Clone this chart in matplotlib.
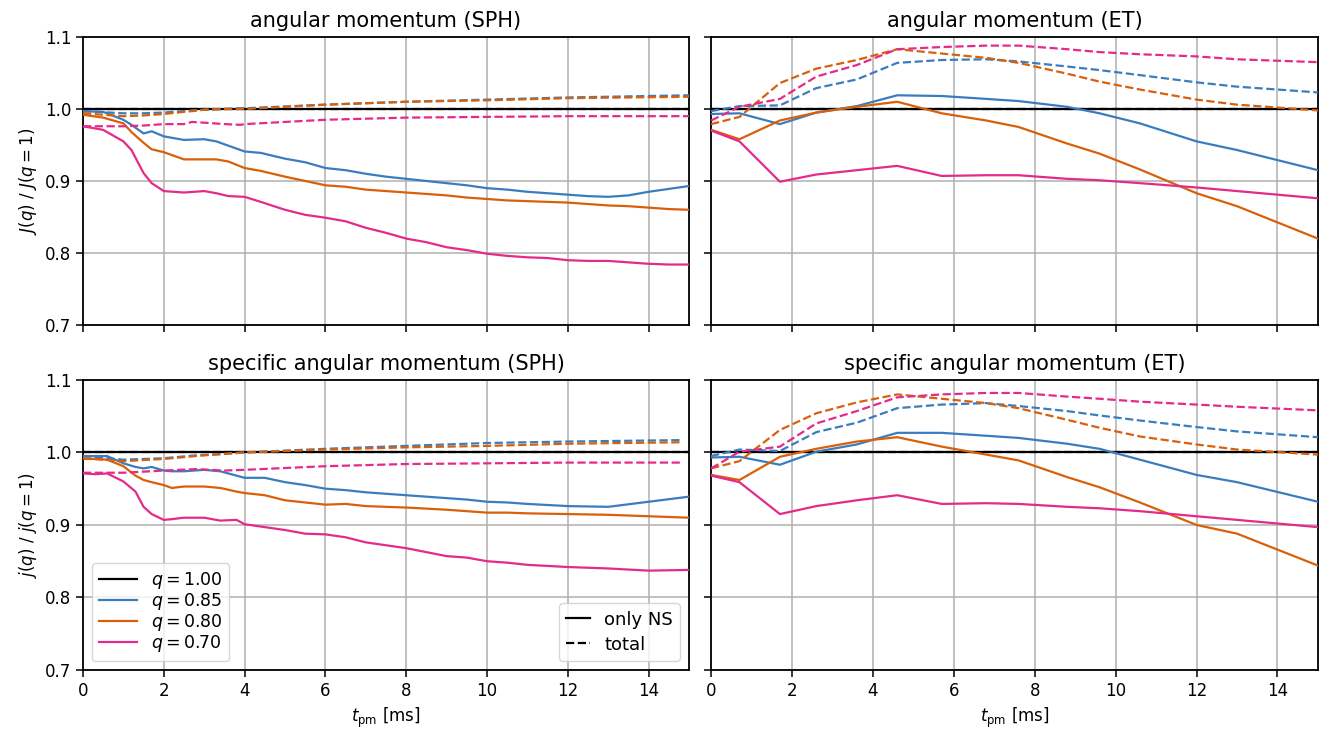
import numpy as np
import matplotlib
matplotlib.use("Agg")
import matplotlib.pyplot as plt
from matplotlib.lines import Line2D

# ---------------- data ----------------
q_labels = ["1.00", "0.85", "0.80", "0.70"]
colors = ["black", "#3a7dbf", "#d9600a", "#e52a8a"]

# SPH, angular momentum (top-left)
sph_J_t = [0, 0.5, 1.0, 1.2, 1.5, 1.7, 2.0, 2.5, 3.0, 3.3, 3.6, 4.0, 4.4, 5.0, 5.5, 6.0, 6.5, 7.0, 7.5,
           8.0, 8.5, 9.0, 9.5, 10.0, 10.5, 11.0, 11.5, 12.0, 12.5, 13.0, 13.5, 14.0, 14.5, 15.0]
sph_J_085 = [0.997, 0.996, 0.985, 0.978, 0.966, 0.969, 0.962, 0.957, 0.958, 0.955, 0.949, 0.941, 0.939, 0.931,
             0.926, 0.918, 0.915, 0.910, 0.906, 0.903, 0.900, 0.897, 0.894, 0.890, 0.888, 0.885, 0.883, 0.881,
             0.879, 0.878, 0.880, 0.885, 0.889, 0.893]
sph_J_080 = [0.992, 0.988, 0.980, 0.968, 0.953, 0.944, 0.940, 0.930, 0.930, 0.930, 0.927, 0.918, 0.914, 0.906,
             0.900, 0.894, 0.892, 0.888, 0.886, 0.884, 0.882, 0.880, 0.877, 0.875, 0.873, 0.872, 0.871, 0.870,
             0.868, 0.866, 0.865, 0.863, 0.861, 0.860]
sph_J_070 = [0.976, 0.971, 0.955, 0.943, 0.911, 0.897, 0.886, 0.884, 0.886, 0.883, 0.879, 0.878, 0.871, 0.860,
             0.853, 0.849, 0.844, 0.835, 0.828, 0.820, 0.815, 0.808, 0.804, 0.799, 0.796, 0.794, 0.793, 0.790,
             0.789, 0.789, 0.787, 0.785, 0.784, 0.784]
sph_Jtot_t = [0, 1, 1.5, 2, 2.5, 2.7, 3, 3.5, 3.9, 4, 6, 8, 10, 12, 15]
sph_Jtot_085 = [0.997, 0.994, 0.994, 0.995, 0.997, 0.998, 0.999, 1.000, 1.001, 1.001, 1.006, 1.010, 1.013, 1.016, 1.019]
sph_Jtot_080 = [0.994, 0.990, 0.991, 0.993, 0.996, 0.997, 0.999, 1.000, 1.000, 1.000, 1.006, 1.010, 1.012, 1.015, 1.017]
sph_Jtot_070 = [0.976, 0.976, 0.977, 0.979, 0.979, 0.982, 0.981, 0.979, 0.978, 0.979, 0.985, 0.988, 0.989, 0.990, 0.990]

# SPH, specific angular momentum (bottom-left)
sph_j_t = [0, 0.3, 0.6, 1.0, 1.3, 1.5, 1.7, 2.0, 2.2, 2.5, 3.0, 3.4, 3.8, 4.0, 4.5, 5.0, 5.5, 6.0, 6.5, 7.0,
           8.0, 9.0, 9.5, 10.0, 10.5, 11.0, 12.0, 13.0, 14.0, 15.0]
sph_j_085 = [0.995, 0.995, 0.995, 0.985, 0.980, 0.978, 0.980, 0.975, 0.974, 0.974, 0.976, 0.974, 0.968, 0.965,
             0.965, 0.959, 0.955, 0.950, 0.948, 0.945, 0.941, 0.937, 0.935, 0.932, 0.931, 0.929, 0.926, 0.925,
             0.932, 0.939]
sph_j_080 = [0.991, 0.991, 0.990, 0.981, 0.968, 0.962, 0.959, 0.955, 0.951, 0.953, 0.953, 0.951, 0.946, 0.944,
             0.941, 0.934, 0.931, 0.928, 0.929, 0.926, 0.924, 0.921, 0.919, 0.917, 0.917, 0.916, 0.915, 0.914,
             0.912, 0.910]
sph_j_070 = [0.971, 0.970, 0.971, 0.960, 0.946, 0.925, 0.915, 0.907, 0.908, 0.910, 0.910, 0.906, 0.907, 0.901,
             0.897, 0.893, 0.888, 0.887, 0.883, 0.876, 0.868, 0.857, 0.855, 0.850, 0.848, 0.845, 0.842, 0.840,
             0.837, 0.838]
sph_jtot_t = [0, 1, 2, 2.8, 3.5, 4, 6, 8, 10, 12, 14.8]
sph_jtot_085 = [0.995, 0.990, 0.992, 0.996, 0.998, 1.000, 1.005, 1.009, 1.013, 1.015, 1.017]
sph_jtot_080 = [0.992, 0.988, 0.991, 0.995, 0.998, 1.000, 1.004, 1.007, 1.009, 1.012, 1.014]
sph_jtot_070 = [0.972, 0.972, 0.975, 0.977, 0.975, 0.976, 0.981, 0.984, 0.985, 0.986, 0.986]

# ET (piecewise data at output times)
et_t = [0, 0.7, 1.7, 2.6, 3.6, 4.6, 5.7, 6.8, 7.6, 8.8, 9.6, 10.6, 12.0, 13.0, 15.0]
et_J_085 = [0.993, 0.994, 0.979, 0.995, 1.004, 1.019, 1.018, 1.014, 1.011, 1.003, 0.994, 0.980, 0.955, 0.943, 0.915]
et_J_080 = [0.971, 0.958, 0.984, 0.995, 1.003, 1.010, 0.994, 0.984, 0.975, 0.952, 0.938, 0.916, 0.883, 0.865, 0.820]
et_J_070 = [0.970, 0.955, 0.899, 0.909, 0.915, 0.921, 0.907, 0.908, 0.908, 0.903, 0.901, 0.897, 0.891, 0.886, 0.876]
et_Jtot_085 = [0.997, 1.004, 1.005, 1.029, 1.041, 1.064, 1.068, 1.069, 1.066, 1.059, 1.054, 1.047, 1.037, 1.031, 1.023]
et_Jtot_080 = [0.979, 0.989, 1.036, 1.056, 1.068, 1.083, 1.077, 1.071, 1.064, 1.049, 1.038, 1.027, 1.013, 1.006, 0.998]
et_Jtot_070 = [0.984, 1.003, 1.014, 1.045, 1.061, 1.083, 1.086, 1.088, 1.088, 1.083, 1.079, 1.076, 1.073, 1.069, 1.065]

et_j_085 = [0.993, 0.994, 0.983, 1.001, 1.011, 1.027, 1.027, 1.023, 1.020, 1.012, 1.005, 0.990, 0.969, 0.959, 0.932]
et_j_080 = [0.969, 0.962, 0.994, 1.005, 1.015, 1.021, 1.008, 0.997, 0.989, 0.966, 0.952, 0.931, 0.900, 0.888, 0.844]
et_j_070 = [0.968, 0.959, 0.915, 0.926, 0.934, 0.941, 0.929, 0.930, 0.929, 0.925, 0.923, 0.919, 0.912, 0.907, 0.897]
et_jtot_085 = [0.995, 1.004, 1.002, 1.028, 1.041, 1.061, 1.066, 1.068, 1.064, 1.057, 1.051, 1.044, 1.035, 1.029, 1.021]
et_jtot_080 = [0.978, 0.988, 1.031, 1.054, 1.069, 1.080, 1.074, 1.068, 1.061, 1.045, 1.034, 1.022, 1.011, 1.004, 0.997]
et_jtot_070 = [0.978, 1.001, 1.008, 1.040, 1.057, 1.076, 1.080, 1.082, 1.082, 1.077, 1.074, 1.070, 1.066, 1.063, 1.058]

titles = ["angular momentum (SPH)", "angular momentum (ET)",
          "specific angular momentum (SPH)", "specific angular momentum (ET)"]
xticks = [0, 2, 4, 6, 8, 10, 12, 14]
yticks = [0.7, 0.8, 0.9, 1.0, 1.1]

# ---------------- figure ----------------
plt.rcParams['font.family'] = ['DejaVu Sans']
plt.rcParams['mathtext.fontset'] = 'dejavusans'
fig = plt.figure(figsize=(13.38, 7.32), dpi=100)
L1, R1 = 0.062, 0.515
L2, R2 = 0.5315, 0.985
B1, T1 = 0.556, 0.9495
B2, T2 = 0.0847, 0.481
axs = [
    fig.add_axes([L1, B1, R1 - L1, T1 - B1]),
    fig.add_axes([L2, B1, R2 - L2, T1 - B1]),
    fig.add_axes([L1, B2, R1 - L1, T2 - B2]),
    fig.add_axes([L2, B2, R2 - L2, T2 - B2]),
]

panels = [
    (sph_J_t, [sph_J_085, sph_J_080, sph_J_070], sph_Jtot_t, [sph_Jtot_085, sph_Jtot_080, sph_Jtot_070]),
    (et_t, [et_J_085, et_J_080, et_J_070], et_t, [et_Jtot_085, et_Jtot_080, et_Jtot_070]),
    (sph_j_t, [sph_j_085, sph_j_080, sph_j_070], sph_jtot_t, [sph_jtot_085, sph_jtot_080, sph_jtot_070]),
    (et_t, [et_j_085, et_j_080, et_j_070], et_t, [et_jtot_085, et_jtot_080, et_jtot_070]),
]

lw = 1.6
for i, (ax, (ts, ys, tt, yt)) in enumerate(zip(axs, panels)):
    ax.grid(True, color='#b0b0b0', lw=1.1, zorder=0)
    ax.axhline(1.0, color='black', lw=lw, ls='--', zorder=2)
    ax.axhline(1.0, color='black', lw=lw, zorder=2)
    for k in range(3):
        ax.plot(tt, yt[k], color=colors[k + 1], lw=lw, ls='--', zorder=3)
        ax.plot(ts, ys[k], color=colors[k + 1], lw=lw, zorder=3)
    ax.set_xlim(0, 15)
    ax.set_ylim(0.7, 1.1)
    ax.set_xticks(xticks)
    ax.set_yticks(yticks)
    ax.set_title(titles[i], fontsize=15, pad=7)
    ax.tick_params(labelsize=12, width=1.1, length=5)
    for s in ax.spines.values():
        s.set_linewidth(1.3)
    if i in (0, 1):
        ax.tick_params(labelbottom=False)
    else:
        ax.set_xlabel(r"$t_{\rm pm}$ [ms]", fontsize=12)
    if i in (1, 3):
        ax.tick_params(labelleft=False)

axs[0].set_ylabel(r"$J(q)$ / $J(q=1)$", fontsize=12)
axs[2].set_ylabel(r"$j(q)$ / $j(q=1)$", fontsize=12)

h1 = [Line2D([], [], color=colors[k], lw=lw) for k in range(4)]
leg1 = axs[2].legend(h1, [r"$q = %s$" % s for s in q_labels], loc='lower left', fontsize=12.5,
                     handlelength=2.2, labelspacing=0.0, borderpad=0.4)
axs[2].add_artist(leg1)
h2 = [Line2D([], [], color='black', lw=lw), Line2D([], [], color='black', lw=lw, ls='--')]
axs[2].legend(h2, ["only NS", "total"], loc='lower right', fontsize=13, handlelength=1.3,
              labelspacing=0.4)

fig.savefig("out.png", dpi=100)
